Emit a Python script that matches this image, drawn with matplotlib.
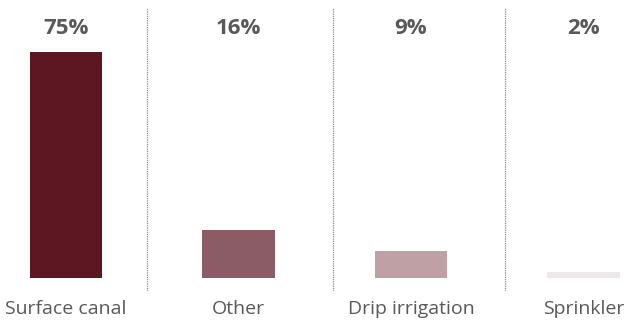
import numpy as np
import matplotlib.pyplot as plt
from matplotlib.transforms import blended_transform_factory

plt.rcParams['font.family'] = ['Open Sans', 'DejaVu Sans']

methods = ['Surface canal', 'Other', 'Drip irrigation', 'Sprinkler']
shares = [75, 16, 9, 2]
colors = ['#5C1723', '#8B5C66', '#BFA0A5', '#EFE6E8']
dividers = [0.47, 1.548, 2.545]  # separator positions between groups

W, H = 630, 322
fig = plt.figure(figsize=(W / 100, H / 100), dpi=100)

# axes spans y pixels 8..291, bar baseline sits at pixel 278
px_per_unit = 3.01
top_px, bot_px, base_px = 8, 291, 278
ax = fig.add_axes([0, 1 - bot_px / H, 1, (bot_px - top_px) / H])
ax.set_ylim(-(bot_px - base_px) / px_per_unit, (base_px - top_px) / px_per_unit)
ax.set_xlim(-66 / 172.5, (W - 66) / 172.5)

x = np.arange(len(methods))
ax.bar(x, shares, width=0.423, color=colors)

for d in dividers:
    ax.axvline(d, color='#8c8c8c', linestyle=(0, (1, 0.8)), linewidth=0.9)

trans = blended_transform_factory(ax.transData, fig.transFigure)
for xi, v, name in zip(x, shares, methods):
    ax.text(xi, 1 - 29 / H, f'{v}%', transform=trans, ha='center', va='center',
            fontsize=16, fontweight='bold', color='#595959')
    ax.text(xi, 1 - 309 / H, name, transform=trans, ha='center', va='center',
            fontsize=14, color='#595959')

ax.axis('off')
fig.savefig('out.png', dpi=100)
